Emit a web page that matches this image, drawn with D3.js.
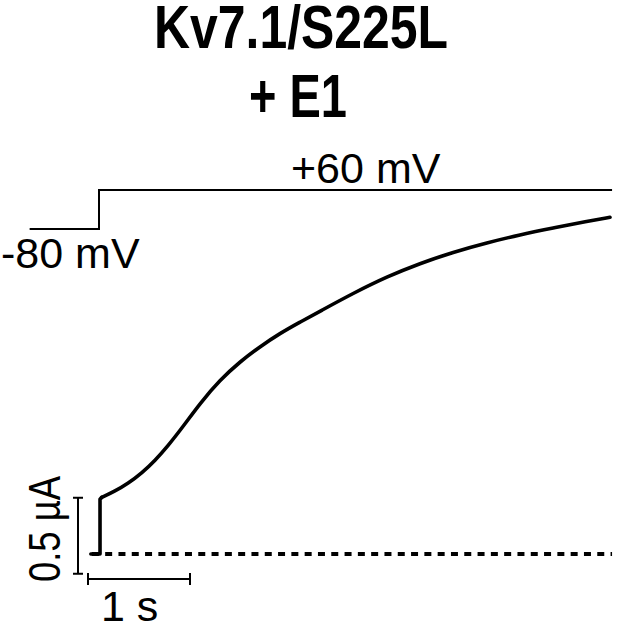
<!DOCTYPE html>
<html>
<head>
<meta charset="utf-8">
<script src="https://cdn.jsdelivr.net/npm/d3@7"></script>
<style>
  html, body { margin: 0; padding: 0; background: #fff; }
  svg { display: block; font-family: "Liberation Sans", Arial, sans-serif; }
</style>
</head>
<body>
<svg id="chart" width="617" height="629"></svg>
<script>
// ---- data ----
const titleLines = ["Kv7.1/S225L", "+ E1"];
// voltage protocol (time in s, voltage in mV)
const protocolTime = [-0.68, 0, 0, 5.03];
const protocolVoltage = [-80, -80, 60, 60];
const voltageLabels = ["-80 mV", "+60 mV"];
// current trace: holding segment + instantaneous jump (time in s, current in µA)
const stepTime = [-0.08, 0.01, 0.01, 0.026];
const stepCurrent = [0, 0, 0.36, 0.372];
// current trace: activation phase
const traceTime = [0.026, 0.157, 0.284, 0.422, 0.549, 0.676, 0.826, 0.990, 1.186, 1.382, 1.578, 1.775, 1.971, 2.167, 2.490, 2.824, 3.147, 3.471, 3.804, 4.127, 4.451, 4.784, 5.010];
const traceCurrent = [0.372, 0.414, 0.464, 0.534, 0.615, 0.711, 0.840, 0.991, 1.145, 1.265, 1.364, 1.452, 1.526, 1.597, 1.715, 1.825, 1.912, 1.986, 2.048, 2.100, 2.145, 2.188, 2.215];
// zero-current reference line (time span)
const zeroLineTime = [-0.07, 5.03];
// scale bars
const scaleCurrent = 0.5;   // µA
const scaleTime = 1;        // s
const scaleLabels = ["0.5 µA", "1 s"];

// ---- scales ----
const x = d3.scaleLinear().domain([0, 1]).range([99, 201]);        // 102 px per s
const yI = d3.scaleLinear().domain([0, 1]).range([554, 402]);      // 152 px per µA
const yV = d3.scaleLinear().domain([-80, 60]).range([229, 190]);

const svg = d3.select("#chart");

// ---- title ----
const title = svg.append("g").attr("font-weight", "bold").attr("font-size", 61).attr("fill", "#000");
title.append("text").attr("x", 301).attr("y", 48).attr("text-anchor", "middle")
  .attr("textLength", 294).attr("lengthAdjust", "spacingAndGlyphs").text(titleLines[0]);
title.append("text").attr("x", 298).attr("y", 117).attr("text-anchor", "middle")
  .attr("textLength", 98).attr("lengthAdjust", "spacingAndGlyphs").text(titleLines[1]);

// ---- voltage protocol ----
const protocol = protocolTime.map((t, i) => ({ t, v: protocolVoltage[i] }));
svg.append("path")
  .datum(protocol)
  .attr("fill", "none").attr("stroke", "#000").attr("stroke-width", 2)
  .attr("d", d3.line().x(d => x(d.t)).y(d => yV(d.v)));

svg.append("text").attr("x", 1).attr("y", 268).attr("font-size", 43).text(voltageLabels[0]);
svg.append("text").attr("x", 291).attr("y", 183).attr("font-size", 43).text(voltageLabels[1]);

// ---- zero line ----
svg.append("line")
  .attr("x1", x(zeroLineTime[0])).attr("x2", x(zeroLineTime[1]))
  .attr("y1", yI(0)).attr("y2", yI(0))
  .attr("stroke", "#000").attr("stroke-width", 4)
  .attr("stroke-dasharray", "7,6.3");

// ---- current trace ----
const step = stepTime.map((t, i) => ({ t, c: stepCurrent[i] }));
const trace = traceTime.map((t, i) => ({ t, c: traceCurrent[i] }));
svg.append("path")
  .datum(step)
  .attr("fill", "none").attr("stroke", "#000").attr("stroke-width", 3.6)
  .attr("stroke-linejoin", "round").attr("stroke-linecap", "round")
  .attr("d", d3.line().x(d => x(d.t)).y(d => yI(d.c)));
svg.append("path")
  .datum(trace)
  .attr("fill", "none").attr("stroke", "#000").attr("stroke-width", 3.6)
  .attr("stroke-linejoin", "round").attr("stroke-linecap", "round")
  .attr("d", d3.line().x(d => x(d.t)).y(d => yI(d.c)).curve(d3.curveBasis));

// ---- scale bars ----
const sb = svg.append("g").attr("stroke", "#000").attr("stroke-width", 2);
const vbX = 78, vbBottom = yI(-0.13), vbTop = yI(-0.13 + scaleCurrent);
sb.append("line").attr("x1", vbX).attr("x2", vbX).attr("y1", vbTop).attr("y2", vbBottom);
sb.append("line").attr("x1", vbX - 5).attr("x2", vbX + 5).attr("y1", vbTop).attr("y2", vbTop);
sb.append("line").attr("x1", vbX - 5).attr("x2", vbX + 5).attr("y1", vbBottom).attr("y2", vbBottom);

const hbY = 579, hbL = x(-0.108), hbR = x(-0.108 + scaleTime);
sb.append("line").attr("x1", hbL).attr("x2", hbR).attr("y1", hbY).attr("y2", hbY);
sb.append("line").attr("x1", hbL).attr("x2", hbL).attr("y1", hbY - 6).attr("y2", hbY + 6);
sb.append("line").attr("x1", hbR).attr("x2", hbR).attr("y1", hbY - 6).attr("y2", hbY + 6);

svg.append("text").attr("transform", "translate(60,529) rotate(-90)")
  .attr("text-anchor", "middle").attr("font-size", 44)
  .attr("textLength", 106).attr("lengthAdjust", "spacingAndGlyphs")
  .text(scaleLabels[0]);
svg.append("text").attr("x", 101).attr("y", 621).attr("font-size", 43).text(scaleLabels[1]);
</script>
</body>
</html>
